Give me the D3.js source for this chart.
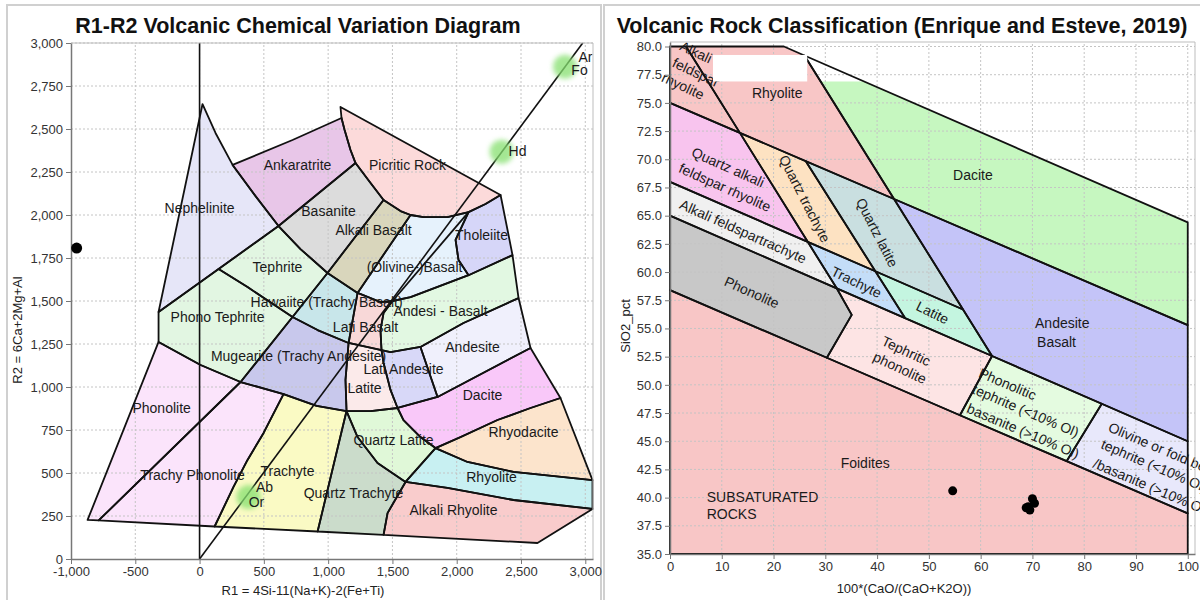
<!DOCTYPE html>
<html>
<head>
<meta charset="utf-8">
<script src="https://cdn.jsdelivr.net/npm/d3@7/dist/d3.min.js"></script>
<style>
  html,body{margin:0;padding:0;background:#fff;}
  svg{display:block;}
  text{font-family:Arial,"Liberation Sans",Helvetica,sans-serif;}
</style>
</head>
<body>
<svg id="chart" width="1200" height="600"></svg>
<script>
// ================= R1-R2 diagram (De la Roche) =================
const r1Ticks = [-1000,-500,0,500,1000,1500,2000,2500,3000];
const r2Ticks = [0,250,500,750,1000,1250,1500,1750,2000,2250,2500,2750,3000];

// field outlines, vertices as [R1, R2]
const r1r2Fields = [
  {name:"Nephelinite", pts:[[23,2645],[124,2477],[257,2291],[435,2110],[614,1936],[148,1686],[-319,1436]]},
  {name:"Ankaratrite", pts:[[257,2291],[723,2436],[1104,2564],[1128,2494],[1174,2378],[1213,2302],[614,1936],[435,2110]]},
  {name:"Picritic Rock", pts:[[1096,2628],[2341,2116],[2224,2064],[2092,2017],[1928,1988],[1742,1988],[1641,2000],[1563,2023],[1431,2087],[1330,2186],[1213,2302],[1174,2378],[1128,2494],[1104,2564]]},
  {name:"Basanite", pts:[[614,1936],[1213,2302],[1330,2186],[1431,2087],[995,1663],[785,1802]]},
  {name:"Alkali Basalt", pts:[[1431,2087],[1563,2023],[1641,2000],[1229,1547],[995,1663]]},
  {name:"Olivine Basalt", pts:[[1641,2000],[1742,1988],[1928,1988],[2092,2017],[1991,1855],[2014,1738],[2092,1650],[1641,1523],[1501,1500],[1407,1494],[1229,1547]]},
  {name:"Tholeiite", pts:[[2092,2017],[2224,2064],[2341,2116],[2434,1767],[2092,1650],[2014,1738],[1991,1855]]},
  {name:"Tephrite", pts:[[148,1686],[614,1936],[785,1802],[995,1663],[723,1407],[606,1465],[373,1581]]},
  {name:"Hawaiite", pts:[[995,1663],[1229,1547],[1159,1256],[918,1331],[723,1407]]},
  {name:"Lati Basalt", pts:[[1229,1547],[1407,1494],[1501,1500],[1431,1430],[1407,1331],[1415,1215],[1159,1256]]},
  {name:"Andesi-Basalt", pts:[[1501,1500],[1641,1523],[2092,1650],[2434,1767],[2481,1517],[2053,1372],[1718,1233],[1485,1203],[1415,1215],[1407,1331],[1431,1430]]},
  {name:"Phono Tephrite", pts:[[-319,1436],[148,1686],[373,1581],[606,1465],[723,1407],[319,1029],[8,1128],[-319,1262]]},
  {name:"Mugearite", pts:[[723,1407],[918,1331],[1159,1256],[1135,1041],[1143,860],[910,890],[653,959],[319,1029]]},
  {name:"Latite", pts:[[1159,1256],[1415,1215],[1431,1140],[1485,983],[1540,878],[1330,860],[1143,860],[1135,1041]]},
  {name:"Lati Andesite", pts:[[1415,1215],[1485,1203],[1718,1233],[1851,942],[1540,878],[1485,983],[1431,1140]]},
  {name:"Andesite", pts:[[1718,1233],[2053,1372],[2481,1517],[2574,1227],[1851,942]]},
  {name:"Phonolite", pts:[[-871,227],[-319,1262],[8,1128],[319,1029],[-785,224]]},
  {name:"Trachy Phonolite", pts:[[-785,224],[319,1029],[653,959],[498,733],[373,576],[264,419],[117,189]]},
  {name:"Trachyte", pts:[[117,189],[264,419],[373,576],[498,733],[653,959],[910,890],[1143,860],[918,160]]},
  {name:"Quartz Trachyte", pts:[[918,160],[1143,860],[1229,709],[1384,558],[1602,448],[1462,267],[1431,140]]},
  {name:"Quartz Latite", pts:[[1143,860],[1330,860],[1540,878],[1586,808],[1718,709],[1835,645],[1602,448],[1384,558],[1229,709]]},
  {name:"Dacite", pts:[[1540,878],[1851,942],[2574,1227],[2807,936],[2574,878],[2317,808],[2030,709],[1835,645],[1718,709],[1586,808]]},
  {name:"Rhyodacite", pts:[[1835,645],[2030,709],[2317,808],[2574,878],[2807,936],[3056,459],[2442,506],[2084,564]]},
  {name:"Rhyolite", pts:[[1602,448],[1835,645],[2084,564],[2442,506],[3056,459],[3056,291],[2442,343],[1928,413]]},
  {name:"Alkali Rhyolite", pts:[[1602,448],[1928,413],[2442,343],[3056,291],[2628,93],[1431,140],[1462,267]]}
];
// divide running through the olivine basalt field
const olivineDivide = [[2092,2017],[1501,1500]];

const r1r2FieldLabels = [
  {text:"Nephelinite", at:[0,2041]},
  {text:"Ankaratrite", at:[762,2291]},
  {text:"Picritic Rock", at:[1617,2291]},
  {text:"Basanite", at:[1003,2023]},
  {text:"Alkali Basalt", at:[1353,1913]},
  {text:"Tholeiite", at:[2193,1884]},
  {text:"(Olivine-)Basalt", at:[1672,1698]},
  {text:"Tephrite", at:[606,1698]},
  {text:"Hawaiite (Trachy Basalt)", at:[988,1494]},
  {text:"Phono Tephrite", at:[140,1407]},
  {text:"Andesi - Basalt", at:[1874,1442]},
  {text:"Lati Basalt", at:[1291,1349]},
  {text:"Mugearite (Trachy Andesite)", at:[770,1180]},
  {text:"Lati Andesite", at:[1586,1105]},
  {text:"Andesite", at:[2123,1233]},
  {text:"Latite", at:[1283,994]},
  {text:"Dacite", at:[2201,954]},
  {text:"Phonolite", at:[-295,878]},
  {text:"Rhyodacite", at:[2519,738]},
  {text:"Quartz Latite", at:[1509,692]},
  {text:"Trachy Phonolite", at:[-54,488]},
  {text:"Trachyte", at:[684,512]},
  {text:"Quartz Trachyte", at:[1197,384]},
  {text:"Rhyolite", at:[2271,477]},
  {text:"Alkali Rhyolite", at:[1975,285]}
];

const mineralLabels = [
  {text:"Ab", at:[505,416]}, {text:"Or", at:[443,328]},
  {text:"Hd", at:[2473,2372]},
  {text:"Ar", at:[3001,2919]}, {text:"Fo", at:[2955,2843]}
];
const mineralHalos = [[381,360],[2349,2368],[2842,2862]];
const mineralLine = [[0,0],[2980,3000]];
const r1ZeroLine = [[0,0],[0,3000]];
const r1r2Samples = [[-956,1808]];

// ============ SiO2 vs 100*CaO/(CaO+K2O) (Enrique & Esteve) ============
const caoTicks = [0,10,20,30,40,50,60,70,80,90,100];
const sio2Ticks = [35,37.5,40,42.5,45,47.5,50,52.5,55,57.5,60,62.5,65,67.5,70,72.5,75,77.5,80];

const eeFields = [
  {name:"Alkali feldspar rhyolite", pts:[[0,80],[3.1,80],[13.5,72.34],[0,75]]},
  {name:"Rhyolite", pts:[[3.1,80],[22,80],[25.96,79.2],[43.27,66.48],[13.5,72.34]]},
  {name:"Dacite", pts:[[25.96,79.2],[100,64.4],[100,55.3],[43.27,66.48]]},
  {name:"Quartz alkali feldspar rhyolite", pts:[[0,75],[13.5,72.34],[26.6,62.68],[0,68]]},
  {name:"Quartz trachyte", pts:[[13.5,72.34],[26.2,69.84],[39.66,60.07],[26.6,62.68]]},
  {name:"Quartz latite", pts:[[26.2,69.84],[43.27,66.48],[56.6,56.68],[39.66,60.07]]},
  {name:"Alkali feldspar trachyte", pts:[[0,68],[26.6,62.68],[32.2,58.56],[0,65]]},
  {name:"Trachyte", pts:[[26.6,62.68],[39.66,60.07],[45.4,55.92],[32.2,58.56]]},
  {name:"Latite", pts:[[39.66,60.07],[56.6,56.68],[62.2,52.56],[45.4,55.92]]},
  {name:"Andesite basalt", pts:[[43.27,66.48],[100,55.3],[100,45.0],[62.2,52.56]]},
  {name:"Phonolite", pts:[[0,65],[32.2,58.56],[35.1,56.2],[30.3,52.4],[0,58.4]]},
  {name:"Tephritic phonolite", pts:[[32.2,58.56],[62.2,52.56],[56.0,47.3],[30.3,52.4],[35.1,56.2]]},
  {name:"Phonolitic tephrite", pts:[[62.2,52.56],[83.4,48.32],[76.6,43.23],[56.0,47.3]]},
  {name:"Olivine tephrite", pts:[[83.4,48.32],[100,45.0],[100,38.6],[76.6,43.23]]},
  {name:"Foidites", pts:[[0,58.4],[30.3,52.4],[56.0,47.3],[76.6,43.23],[100,38.6],[100,35],[0,35]]}
];

// centred labels: text, anchor [CaO ratio, SiO2], rotation in degrees
const eeLabels = [
  {text:"Alkali", at:[5.0,79.5], rot:25},
  {text:"feldspar", at:[5.0,77.7], rot:25},
  {text:"rhyolite", at:[2.5,76.5], rot:25},
  {text:"Rhyolite", at:[20.7,75.9], rot:0},
  {text:"Dacite", at:[58.5,68.6], rot:0},
  {text:"Quartz alkali", at:[11.2,69.3], rot:24},
  {text:"feldspar rhyolite", at:[10.6,67.5], rot:24},
  {text:"Quartz trachyte", at:[26.0,66.5], rot:63},
  {text:"Quartz latite", at:[40.0,63.5], rot:63},
  {text:"Alkali feldspartrachyte", at:[14.1,63.6], rot:24},
  {text:"Trachyte", at:[36.0,59.1], rot:26},
  {text:"Latite", at:[50.7,56.4], rot:26},
  {text:"Phonolite", at:[15.8,58.2], rot:24},
  {text:"Tephritic", at:[45.6,53.0], rot:25},
  {text:"phonolite", at:[44.4,51.5], rot:25},
  {text:"Phonolitic", at:[65.2,50.07], rot:23},
  {text:"tephrite (<10% Ol)", at:[68.7,47.7], rot:23},
  {text:"basanite (>10% Ol)", at:[68.2,45.9], rot:23},
  {text:"Foidites", at:[37.7,43.1], rot:0}
];
// left-aligned labels
const eeStartLabels = [
  {text:"Andesite", at:[70.5,55.5], rot:0},
  {text:"Basalt", at:[70.9,53.8], rot:0},
  {text:"SUBSATURATED", at:[7.1,40.05], rot:0},
  {text:"ROCKS", at:[7.1,38.5], rot:0},
  {text:"Olivine or foid bearing", at:[84.8,46.3], rot:23},
  {text:"tephrite (<10% Ol)", at:[83.4,44.8], rot:23},
  {text:"/basanite (>10% Ol)", at:[81.9,43.1], rot:23}
];
const eeSamples = [[54.6,40.6],[70.0,39.9],[70.4,39.5],[69.2,39.2],[68.8,39.1],[69.5,38.9]];

// ================= drawing =================
const svg = d3.select("#chart");
const defs = svg.append("defs");
defs.append("filter").attr("id","halo").attr("x","-50%").attr("y","-50%").attr("width","200%").attr("height","200%")
  .append("feGaussianBlur").attr("stdDeviation",2.5);

const leftFill = {
  "Nephelinite":"#e6e6f8","Ankaratrite":"#e8c6e8","Picritic Rock":"#fcdada","Basanite":"#dcdcdc",
  "Alkali Basalt":"#d9d6bc","Olivine Basalt":"#e6f2fc","Tholeiite":"#d6d6f8","Tephrite":"#e2f6e2",
  "Hawaiite":"#c8e6ea","Lati Basalt":"#f8d8d8","Andesi-Basalt":"#e2f8e2","Phono Tephrite":"#e2f6e2",
  "Mugearite":"#c8c8ec","Latite":"#fbeaea","Lati Andesite":"#d8d8f8","Andesite":"#f0f0fc",
  "Phonolite":"#fbe4fb","Trachy Phonolite":"#fbe4fb","Trachyte":"#fafac4","Quartz Trachyte":"#cbdccb",
  "Quartz Latite":"#e0f8d8","Dacite":"#f9c8f9","Rhyodacite":"#fce4cc","Rhyolite":"#c8f0f2",
  "Alkali Rhyolite":"#f9cccc"
};
const rightFill = {
  "Alkali feldspar rhyolite":"#f8c6c6","Rhyolite":"#f8c6c6","Dacite":"#c6f7c0",
  "Quartz alkali feldspar rhyolite":"#f8c4ee","Quartz trachyte":"#fde2c2","Quartz latite":"#c9dfe0",
  "Alkali feldspar trachyte":"#f0f0f0","Trachyte":"#c4ddf8","Latite":"#c4f5e0","Andesite basalt":"#c4c4f8",
  "Phonolite":"#c8c8c8","Tephritic phonolite":"#fde4e4","Phonolitic tephrite":"#e4fbe0",
  "Olivine tephrite":"#e8e8fb","Foidites":"#f8c6c6"
};

const fmtComma = v => (v < 0 ? "-" : "") + d3.format(",")(Math.abs(v));

// outer panel frames
svg.append("rect").attr("x",7).attr("y",5).attr("width",594).attr("height",610)
  .attr("fill","#fff").attr("stroke","#d0d0d0").attr("stroke-width",2);
svg.append("rect").attr("x",604).attr("y",5).attr("width",610).attr("height",610)
  .attr("fill","#fff").attr("stroke","#d0d0d0").attr("stroke-width",2);

function grid(g, x, y, xt, yt) {
  const [x0,x1] = x.range(), [y0,y1] = y.range();
  g.append("g").selectAll("line").data(xt.slice(1)).join("line")
    .attr("x1",d=>x(d)).attr("x2",d=>x(d)).attr("y1",y0).attr("y2",y1)
    .attr("stroke","#c4c4c4").attr("stroke-dasharray","2,2");
  g.append("g").selectAll("line").data(yt.slice(1)).join("line")
    .attr("y1",d=>y(d)).attr("y2",d=>y(d)).attr("x1",x0).attr("x2",x1)
    .attr("stroke","#c4c4c4").attr("stroke-dasharray","2,2");
}

function axes(g, x, y, xt, yt, fx, fy) {
  const [x0,x1] = x.range(), [y0,y1] = y.range();
  // light frame top/right
  g.append("path").attr("d",`M${x0},${y1}H${x1}V${y0}`).attr("fill","none").attr("stroke","#bdbdbd");
  const ax = g.append("g").attr("transform",`translate(0,${y0})`)
    .call(d3.axisBottom(x).tickValues(xt).tickFormat(fx).tickSize(5).tickSizeOuter(0).tickPadding(3));
  const ay = g.append("g").attr("transform",`translate(${x0},0)`)
    .call(d3.axisLeft(y).tickValues(yt).tickFormat(fy).tickSize(5).tickSizeOuter(0).tickPadding(3));
  [ax,ay].forEach(a => {
    a.select(".domain").attr("stroke","#777").attr("stroke-width",1.5);
    a.selectAll(".tick line").attr("stroke","#777");
    a.selectAll(".tick text").attr("font-size",13).attr("fill","#333")
      .attr("font-family","Arial, 'Liberation Sans', sans-serif");
  });
}

const lineGen = (x,y) => d3.line().x(d=>x(d[0])).y(d=>y(d[1]));

// ---------- left panel ----------
const xL = d3.scaleLinear().domain([-1000,3060]).range([71,593]);
const yL = d3.scaleLinear().domain([0,3000]).range([559,43]);
const gL = svg.append("g");
const polyL = lineGen(xL,yL);

gL.append("g").selectAll("path").data(r1r2Fields).join("path")
  .attr("d",d=>polyL(d.pts)+"Z").attr("fill",d=>leftFill[d.name]).attr("stroke","none");
grid(gL, xL, yL, r1Ticks, r2Ticks);
gL.append("g").selectAll("path").data(r1r2Fields).join("path")
  .attr("d",d=>polyL(d.pts)+"Z").attr("fill","none").attr("stroke","#111")
  .attr("stroke-width",1.8).attr("stroke-linejoin","round");
gL.append("path").attr("d",polyL(olivineDivide)).attr("stroke","#111").attr("stroke-width",1.8);
gL.append("path").attr("d",polyL(r1ZeroLine)).attr("stroke","#111").attr("stroke-width",1.6);
gL.append("path").attr("d",polyL(mineralLine)).attr("stroke","#111").attr("stroke-width",1.6);

gL.append("g").selectAll("circle").data(mineralHalos).join("circle")
  .attr("cx",d=>xL(d[0])).attr("cy",d=>yL(d[1])).attr("r",12)
  .attr("fill","#86e070").attr("opacity",0.75).attr("filter","url(#halo)");

gL.append("g").selectAll("text").data(r1r2FieldLabels).join("text")
  .attr("x",d=>xL(d.at[0])).attr("y",d=>yL(d.at[1])).attr("dy","0.35em")
  .attr("text-anchor","middle").attr("font-size",14).attr("fill","#1a1a1a").text(d=>d.text);
gL.append("g").selectAll("text").data(mineralLabels).join("text")
  .attr("x",d=>xL(d.at[0])).attr("y",d=>yL(d.at[1])).attr("dy","0.35em")
  .attr("text-anchor","middle").attr("font-size",14).attr("fill","#1a1a1a").text(d=>d.text);

axes(gL, xL, yL, r1Ticks, r2Ticks, fmtComma, fmtComma);

gL.append("g").selectAll("circle").data(r1r2Samples).join("circle")
  .attr("cx",d=>xL(d[0])).attr("cy",d=>yL(d[1])).attr("r",5.5).attr("fill","#000");

svg.append("text").attr("x",298).attr("y",33).attr("text-anchor","middle")
  .attr("font-size",21.5).attr("font-weight","bold").attr("fill","#111")
  .text("R1-R2 Volcanic Chemical Variation Diagram");
svg.append("text").attr("x",303).attr("y",590).attr("dy","0.35em").attr("text-anchor","middle")
  .attr("font-size",13).attr("fill","#222").text("R1 = 4Si-11(Na+K)-2(Fe+Ti)");
svg.append("text").attr("transform","translate(17,330) rotate(-90)").attr("dy","0.35em")
  .attr("text-anchor","middle").attr("font-size",13).attr("fill","#222").text("R2 = 6Ca+2Mg+Al");

// ---------- right panel ----------
const xR = d3.scaleLinear().domain([0,101.4]).range([670,1195]);
const yR = d3.scaleLinear().domain([35,80.4]).range([554,42]);
const gR = svg.append("g");
const polyR = lineGen(xR,yR);

defs.append("clipPath").attr("id","below77").append("rect")
  .attr("x",xR(0)).attr("width",xR(101.4)-xR(0)).attr("y",yR(76.9)).attr("height",yR(35)-yR(76.9));

gR.append("g").selectAll("path").data(eeFields).join("path")
  .attr("d",d=>polyR(d.pts)+"Z").attr("fill",d=>rightFill[d.name]).attr("stroke","none")
  .attr("clip-path",d=>d.name==="Dacite" ? "url(#below77)" : null);
grid(gR, xR, yR, caoTicks, sio2Ticks);
gR.append("g").selectAll("path").data(eeFields).join("path")
  .attr("d",d=>polyR(d.pts)+"Z").attr("fill","none").attr("stroke","#111")
  .attr("stroke-width",1.8).attr("stroke-linejoin","round");

const lblR = gR.append("g");
lblR.selectAll("text.c").data(eeLabels).join("text").attr("class","c")
  .attr("transform",d=>`translate(${xR(d.at[0])},${yR(d.at[1])}) rotate(${d.rot})`)
  .attr("dy","0.35em").attr("text-anchor","middle").attr("font-size",14).attr("fill","#1a1a1a")
  .text(d=>d.text);
lblR.selectAll("text.s").data(eeStartLabels).join("text").attr("class","s")
  .attr("transform",d=>`translate(${xR(d.at[0])},${yR(d.at[1])}) rotate(${d.rot})`)
  .attr("dy","0.35em").attr("text-anchor","start").attr("font-size",14).attr("fill","#1a1a1a")
  .text(d=>d.text);

// blank patch at the top of the rhyolite field
gR.append("rect").attr("x",xR(8.3)).attr("y",yR(79.25))
  .attr("width",xR(26.5)-xR(8.3)).attr("height",yR(76.9)-yR(79.25)).attr("fill","#fff");

axes(gR, xR, yR, caoTicks, sio2Ticks, d3.format("d"), d3.format(".1f"));

gR.append("g").selectAll("circle").data(eeSamples).join("circle")
  .attr("cx",d=>xR(d[0])).attr("cy",d=>yR(d[1])).attr("r",4.5).attr("fill","#000");

svg.append("text").attr("x",902).attr("y",33).attr("text-anchor","middle")
  .attr("font-size",21.5).attr("font-weight","bold").attr("fill","#111")
  .text("Volcanic Rock Classification (Enrique and Esteve, 2019)");
svg.append("text").attr("x",904).attr("y",588).attr("dy","0.35em").attr("text-anchor","middle")
  .attr("font-size",13).attr("fill","#222").text("100*(CaO/(CaO+K2O))");
svg.append("text").attr("transform","translate(625,326) rotate(-90)").attr("dy","0.35em")
  .attr("text-anchor","middle").attr("font-size",13).attr("fill","#222").text("SiO2_pct");
</script>
</body>
</html>
